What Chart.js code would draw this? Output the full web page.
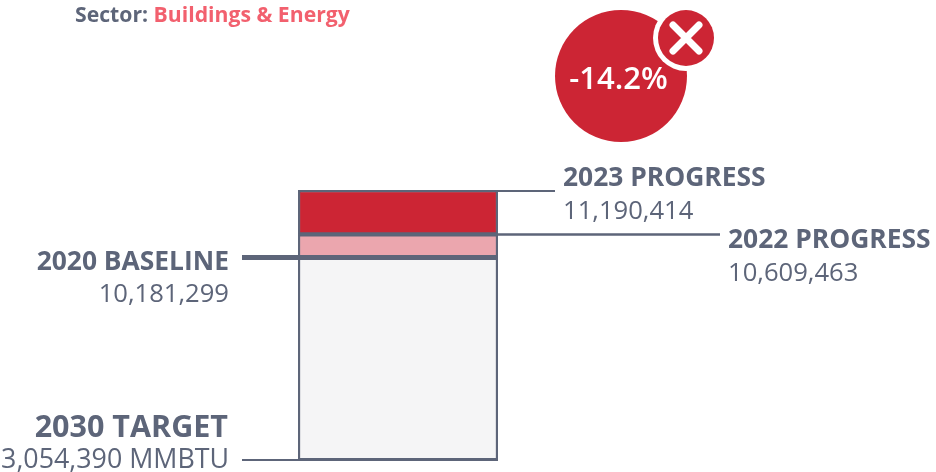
<!DOCTYPE html>
<html><head><meta charset="utf-8">
<style>html,body{margin:0;padding:0;background:#fff}#w{position:relative;width:936px;height:472px}canvas{display:block}</style>
<script src="https://cdn.jsdelivr.net/npm/chart.js@4"></script></head>
<body><div id="w"><canvas id="c" width="936" height="472"></canvas></div>
<script>
const categories = ["Buildings & Energy"];
const target2030 = 3054390;
const baseline2020 = 10181299;
const progress2022 = 10609463;
const progress2023 = 11190414;
const changeLabel = "-14.2%";
const scaleValues = [target2030, baseline2020, progress2022, progress2023];
const scaleFractions = [0, 0.751, 0.836, 1];

const INK = "#5d6579", RED = "#cc2534", FONT = '"Open Sans"';

class AnchoredScale extends Chart.LinearScale {
  static id = "anchored";
  static defaults = Chart.LinearScale.defaults;
  getPixelForValue(v) {
    let i = 0;
    while (i < scaleValues.length - 2 && v > scaleValues[i + 1]) i++;
    const t = (v - scaleValues[i]) / (scaleValues[i + 1] - scaleValues[i]);
    const f = scaleFractions[i] + t * (scaleFractions[i + 1] - scaleFractions[i]);
    return this.bottom - f * (this.bottom - this.top);
  }
}
Chart.register(AnchoredScale);

function txt(ctx, s, x, y, font, color, align) {
  ctx.font = font; ctx.fillStyle = color; ctx.textAlign = align || "left"; ctx.textBaseline = "alphabetic";
  ctx.fillText(s, x, y);
}
function seg(ctx, x0, x1, y, w) {
  ctx.beginPath(); ctx.moveTo(x0, y); ctx.lineTo(x1, y); ctx.lineWidth = w; ctx.strokeStyle = INK; ctx.stroke();
}
const fmt = n => n.toLocaleString("en-US");

const annotations = {
  id: "annotations",
  afterDatasetsDraw(chart) {
    const c = chart.ctx, y = chart.scales.y;
    c.save();
    seg(c, 498, 555, y.getPixelForValue(progress2023) + 1, 2);
    seg(c, 298, 720, y.getPixelForValue(progress2022), 2.5);
    seg(c, 242, 498, y.getPixelForValue(baseline2020), 5);
    seg(c, 242, 299, y.getPixelForValue(target2030) - 1, 2);
    seg(c, 298, 498, y.getPixelForValue(target2030) - 1.5, 3);

    const bold = '700 26.4px ' + FONT, reg = '400 25.6px ' + FONT;
    txt(c, "Sector: ", 75, 22, '700 21.2px ' + FONT, INK);
    const w = c.measureText("Sector: ").width;
    txt(c, categories[0], 75 + w, 22, '700 21.2px ' + FONT, "#f2606e");

    txt(c, "2023 PROGRESS", 563, 186, bold, INK);
    txt(c, fmt(progress2023), 563, 219, reg, INK);
    txt(c, "2022 PROGRESS", 728, 248, bold, INK);
    txt(c, fmt(progress2022), 728, 281, reg, INK);
    txt(c, "2020 BASELINE", 229, 270, bold, INK, "right");
    txt(c, fmt(baseline2020), 229, 302, reg, INK, "right");
    txt(c, "2030 TARGET", 228, 437, '700 30.5px ' + FONT, INK, "right");
    txt(c, fmt(target2030) + " MMBTU", 229, 468, '400 26.8px ' + FONT, INK, "right");

    // badge
    c.fillStyle = RED;
    c.beginPath(); c.arc(621, 76, 66, 0, Math.PI * 2); c.fill();
    c.fillStyle = "#fff";
    c.beginPath(); c.arc(686, 38, 33, 0, Math.PI * 2); c.fill();
    c.fillStyle = RED;
    c.beginPath(); c.arc(686, 38, 28, 0, Math.PI * 2); c.fill();
    c.strokeStyle = "#fff"; c.lineWidth = 7; c.lineCap = "round";
    c.beginPath(); c.moveTo(673, 25); c.lineTo(699, 51); c.moveTo(699, 25); c.lineTo(673, 51); c.stroke();
    txt(c, changeLabel, 618.5, 89, '600 31px ' + FONT, "#fff", "center");
    c.restore();
  }
};

const common = { borderColor: INK, borderWidth: 2.5, borderSkipped: false, barPercentage: 1, categoryPercentage: 1 };
new Chart(document.getElementById("c"), {
  type: "bar",
  data: {
    labels: categories,
    datasets: [
      { label: "2030 Target to 2020 Baseline", data: [[target2030, baseline2020]], backgroundColor: "#f5f5f6", ...common },
      { label: "2022 Progress", data: [[baseline2020, progress2022]], backgroundColor: "#eba6ae", ...common },
      { label: "2023 Progress", data: [[progress2022, progress2023]], backgroundColor: RED, ...common }
    ]
  },
  options: {
    responsive: false, animation: false,
    layout: { padding: { left: 298, right: 438, top: 190, bottom: 11 } },
    datasets: { bar: { grouped: false } },
    plugins: { legend: { display: false }, tooltip: { enabled: false } },
    scales: {
      x: { display: false, stacked: false },
      y: { type: "anchored", display: false, min: target2030, max: progress2023 }
    }
  },
  plugins: [annotations]
});
</script></body></html>
